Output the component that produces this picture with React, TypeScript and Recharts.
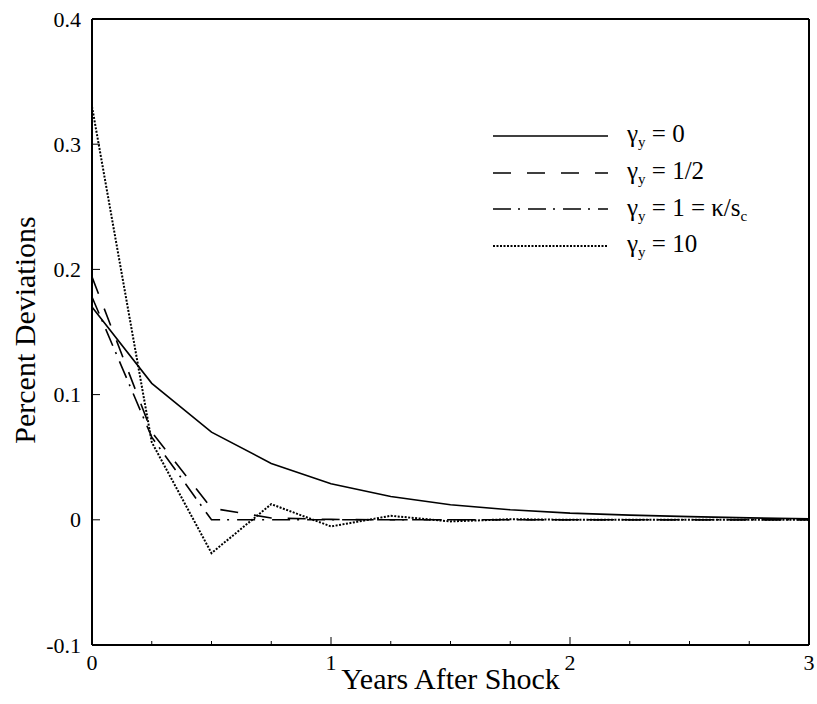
import React from 'react';
import { LineChart, Line, XAxis, YAxis, Legend, ReferenceLine } from 'recharts';

// quarterly points, years after the shock
const years = [0, 0.25, 0.5, 0.75, 1, 1.25, 1.5, 1.75, 2, 2.25, 2.5, 2.75, 3];
const gamma0 = [0.17, 0.109, 0.07, 0.045, 0.0288, 0.0186, 0.012, 0.008, 0.0053, 0.0037, 0.0025, 0.0015, 0.0008];
const gammaHalf = [0.194, 0.07, 0.0093, 0.0015, 0.0003, 0, 0, 0, 0, 0, 0, 0, 0];
const gammaOne = [0.178, 0.066, 0, 0, 0, 0, 0, 0, 0, 0, 0, 0, 0];
const gammaTen = [0.33, 0.062, -0.0266, 0.0125, -0.0053, 0.0032, -0.0013, 0.0005, 0, 0, 0, 0, 0];

const xTicks = [0, 0.25, 0.5, 0.75, 1, 1.25, 1.5, 1.75, 2, 2.25, 2.5, 2.75, 3];
const yTicks = [-0.1, 0, 0.1, 0.2, 0.3, 0.4];

const seriesKeys = ['g0', 'gHalf', 'gOne', 'gTen'];
const seriesRhs = ['0', '1/2', '1 = κ/s', '10'];
const seriesRhsSub = ['', '', 'c', ''];

const dashes = [undefined, '18 16', '18 7 2 8', '2 1.5'];
const widths = [1.6, 1.6, 1.6, 2];

const data = years.map((t, i) => ({
  t,
  g0: gamma0[i],
  gHalf: gammaHalf[i],
  gOne: gammaOne[i],
  gTen: gammaTen[i],
}));

const FONT = '"Liberation Serif", "Times New Roman", serif';
const txt = { fontFamily: FONT };

const XTick = (props: any) => {
  const { x, y, payload } = props;
  const major = Number.isInteger(payload.value);
  return (
    <g>
      <line x1={x} y1={y} x2={x} y2={y - (major ? 8 : 4)} stroke="#000" strokeWidth={1} />
      {major && (
        <text x={x} y={y + 25} textAnchor="middle" style={txt} fontSize={22} fill="#000">
          {payload.value}
        </text>
      )}
    </g>
  );
};

const YTick = (props: any) => {
  const { x, y, payload } = props;
  return (
    <g>
      <line x1={x} y1={y} x2={x + 8} y2={y} stroke="#000" strokeWidth={1} />
      <text x={x - 11} y={y} textAnchor="end" dominantBaseline="central" style={txt} fontSize={22} fill="#000">
        {payload.value === 0 ? '0' : String(payload.value)}
      </text>
    </g>
  );
};

const XTitle = (props: any) => {
  const { x, y, width } = props.viewBox;
  return (
    <text x={x + width / 2} y={y + 44} textAnchor="middle" style={txt} fontSize={30} fill="#000">
      Years After Shock
    </text>
  );
};

const YTitle = (props: any) => {
  const { x, y, height } = props.viewBox;
  const cx = x + 24;
  const cy = y + height / 2 - 2;
  return (
    <text
      x={cx}
      y={cy}
      transform={`rotate(-90 ${cx} ${cy})`}
      textAnchor="middle"
      dominantBaseline="central"
      style={txt}
      fontSize={30}
      fill="#000"
    >
      Percent Deviations
    </text>
  );
};

const LegendBox = () => (
  <div style={{ fontFamily: FONT, color: '#000' }}>
    {seriesKeys.map((k, i) => (
      <div key={k} style={{ display: 'flex', alignItems: 'center', height: 36.7 }}>
        <svg width={115} height={4} style={{ display: 'block' }}>
          <line x1={0} y1={2} x2={115} y2={2} stroke="#000" strokeWidth={widths[i]} strokeDasharray={dashes[i]} />
        </svg>
        <span style={{ marginLeft: 19, fontSize: 25, whiteSpace: 'nowrap', fontFamily: FONT }}>
          γ<sub style={{ fontSize: 15, verticalAlign: -5 }}>y</sub> = {seriesRhs[i]}
          {seriesRhsSub[i] && <sub style={{ fontSize: 15, verticalAlign: -5 }}>{seriesRhsSub[i]}</sub>}
        </span>
      </div>
    ))}
  </div>
);

export default function App() {
  return (
    <div style={{ position: 'absolute', left: 0, top: 0, background: '#fff' }}>
      <LineChart width={817} height={704} data={data} margin={{ top: 19, right: 8, left: 0, bottom: 0 }}>
        <XAxis
          dataKey="t"
          type="number"
          domain={[0, 3]}
          ticks={xTicks}
          interval={0}
          height={59}
          tickSize={0}
          tickMargin={0}
          tickLine={false}
          tick={<XTick />}
          axisLine={{ stroke: '#000', strokeWidth: 2 }}
          label={XTitle}
        />
        <YAxis
          type="number"
          domain={[-0.1, 0.4]}
          ticks={yTicks}
          interval={0}
          width={92}
          tickSize={0}
          tickMargin={0}
          tickLine={false}
          tick={<YTick />}
          axisLine={{ stroke: '#000', strokeWidth: 2 }}
          label={YTitle}
        />
        <ReferenceLine y={0.4} stroke="#000" strokeWidth={2} />
        <ReferenceLine x={3} stroke="#000" strokeWidth={2} />
        <Legend
          layout="vertical"
          align="center"
          verticalAlign="middle"
          content={<LegendBox />}
          wrapperStyle={{ left: 493, top: 117.5, width: 300 }}
        />
        {seriesKeys.map((k, i) => (
          <Line
            key={k}
            dataKey={k}
            type="linear"
            stroke="#000"
            strokeWidth={widths[i]}
            strokeDasharray={dashes[i]}
            dot={false}
            activeDot={false}
            isAnimationActive={false}
          />
        ))}
      </LineChart>
    </div>
  );
}
